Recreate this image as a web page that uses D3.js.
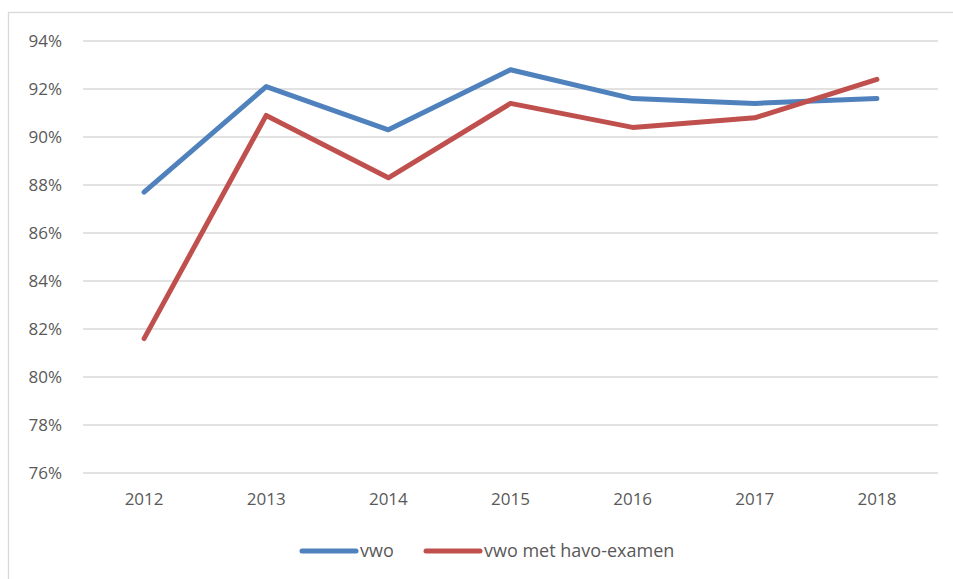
<!DOCTYPE html>
<html>
<head>
<meta charset="utf-8">
<script src="https://cdn.jsdelivr.net/npm/d3@7"></script>
<style>
  body { margin: 0; background: #fff; }
  svg { display: block; font-family: "Open Sans", "Noto Sans", sans-serif; }
</style>
</head>
<body>
<svg id="chart"></svg>
<script>
const years = ["2012", "2013", "2014", "2015", "2016", "2017", "2018"];
const vwo = [87.7, 92.1, 90.3, 92.8, 91.6, 91.4, 91.6];
const vwoHavo = [81.6, 90.9, 88.3, 91.4, 90.4, 90.8, 92.4];
const yTicks = [76, 78, 80, 82, 84, 86, 88, 90, 92, 94];
const seriesNames = ["vwo", "vwo met havo-examen"];
const colors = ["#4f81bd", "#c0504d"];

const width = 953, height = 579;
const plotLeft = 83, plotRight = 938, plotTop = 41, plotBottom = 473;

const svg = d3.select("#chart").attr("width", width).attr("height", height);

// chart frame
svg.append("rect")
  .attr("x", 8.5).attr("y", 12.5)
  .attr("width", 960).attr("height", 600)
  .attr("fill", "none").attr("stroke", "#d9d9d9").attr("stroke-width", 1.3);

const x = d3.scaleBand().domain(years).range([plotLeft, plotRight]);
const y = d3.scaleLinear().domain([76, 94]).range([plotBottom, plotTop]);

// gridlines
svg.append("g").selectAll("line")
  .data(yTicks).enter().append("line")
  .attr("x1", plotLeft).attr("x2", plotRight)
  .attr("y1", d => y(d)).attr("y2", d => y(d))
  .attr("stroke", "#d9d9d9").attr("stroke-width", 1.3);

// y labels
svg.append("g").selectAll("text")
  .data(yTicks).enter().append("text")
  .attr("x", 62).attr("y", d => y(d))
  .attr("dy", "0.35em")
  .attr("text-anchor", "end")
  .attr("font-size", 17).attr("fill", "#595959")
  .text(d => d + "%");

// x labels
svg.append("g").selectAll("text")
  .data(years).enter().append("text")
  .attr("x", d => x(d) + x.bandwidth() / 2).attr("y", 505)
  .attr("text-anchor", "middle")
  .attr("font-size", 17).attr("fill", "#595959")
  .text(d => d);

const line = d3.line()
  .x((d, i) => x(years[i]) + x.bandwidth() / 2)
  .y(d => y(d));

[vwo, vwoHavo].forEach((s, i) => {
  svg.append("path")
    .datum(s)
    .attr("fill", "none")
    .attr("stroke", colors[i])
    .attr("stroke-width", 5)
    .attr("stroke-linecap", "round")
    .attr("stroke-linejoin", "round")
    .attr("d", line);
});

// legend
const legendX = [302, 426];
seriesNames.forEach((name, i) => {
  const g = svg.append("g").attr("transform", `translate(${legendX[i]},551)`);
  g.append("line").attr("x1", 0).attr("x2", 54).attr("y1", 0).attr("y2", 0)
    .attr("stroke", colors[i]).attr("stroke-width", 5).attr("stroke-linecap", "round");
  g.append("text").attr("x", 58).attr("dy", "0.35em")
    .attr("font-size", 18).attr("fill", "#595959").text(name);
});
</script>
</body>
</html>
